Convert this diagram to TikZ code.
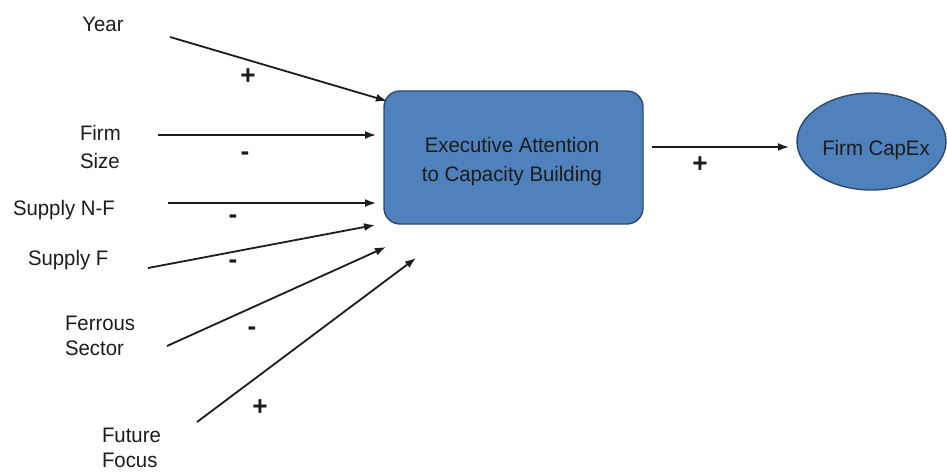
\documentclass[tikz,border=0pt]{standalone}
\usepackage{fontspec}
\setmainfont{Liberation Sans}[FakeStretch=0.97]
\usetikzlibrary{arrows.meta,shapes.geometric}
\definecolor{boxblue}{HTML}{4F81BD}
\definecolor{boxedge}{HTML}{2C4A6E}
\definecolor{ink}{HTML}{1C1C1C}
\begin{document}
\begin{tikzpicture}[x=1pt,y=-1pt,
  every node/.style={inner sep=0pt,outer sep=0pt,text=ink},
  factor/.style={anchor=base west,font=\fontsize{21}{25}\selectfont},
  sign/.style={anchor=center,font=\fontsize{27}{29}\selectfont\bfseries},
  link/.style={draw=ink,line width=1.8pt,-{Latex[length=11pt,width=8pt]}},
  attention/.style={draw=boxedge,line width=1.4pt,fill=boxblue,rounded corners=16pt},
  outcome/.style={ellipse,draw=boxedge,line width=1.4pt,fill=boxblue}]
\useasboundingbox (0,0) rectangle (947,476);

% central construct
\path[attention] (384,91) rectangle (643,224);
\node[anchor=base,font=\fontsize{21}{27}\selectfont,align=center] (attn) at (512,152)
  {\begin{tabular}[t]{@{}c@{}}Executive Attention\\[2pt] to Capacity Building\end{tabular}};

% outcome
\node[outcome,minimum width=149pt,minimum height=97pt] (capex) at (871.5,141.5) {};
\node[anchor=base,font=\fontsize{21}{25}\selectfont] (capexlabel) at (876,155) {Firm CapEx};

% antecedents
\node[factor,anchor=base] (year) at (103,32) {Year};
\node[factor] (size) at (80,140) {\begin{tabular}[t]{@{}l@{}}Firm\\[3pt]Size\end{tabular}};
\node[factor] (nf) at (13,215) {Supply N-F};
\node[factor] (sf) at (28,265) {Supply F};
\node[factor] (ferrous) at (65,330) {\begin{tabular}[t]{@{}l@{}}Ferrous\\Sector\end{tabular}};
\node[factor] (future) at (102,442) {\begin{tabular}[t]{@{}l@{}}Future\\Focus\end{tabular}};

% arrow ends
\coordinate (yearT) at (170,37);   \coordinate (yearH) at (387,101);
\coordinate (sizeT) at (158,135);  \coordinate (sizeH) at (376,135);
\coordinate (nfT) at (168,203);    \coordinate (nfH) at (376,203);
\coordinate (sfT) at (148,268);    \coordinate (sfH) at (375,225);
\coordinate (ferT) at (167,346);   \coordinate (ferH) at (386,247);
\coordinate (futT) at (197,422);   \coordinate (futH) at (416,258);
\coordinate (outT) at (652,147);   \coordinate (outH) at (789,147);

\draw[link] (yearT) -- (yearH);
\draw[link] (sizeT) -- (sizeH);
\draw[link] (nfT) -- (nfH);
\draw[link] (sfT) -- (sfH);
\draw[link] (ferT) -- (ferH);
\draw[link] (futT) -- (futH);
\draw[link] (outT) -- (outH);

% signs
\node[sign] (s1) at (248,77) {+};
\node[sign] (s2) at (245,156) {-};
\node[sign] (s3) at (233,219) {-};
\node[sign] (s4) at (233,264) {-};
\node[sign] (s5) at (252,331) {-};
\node[sign] (s6) at (260,408) {+};
\node[sign] (s7) at (700,165) {+};
\end{tikzpicture}
\end{document}
